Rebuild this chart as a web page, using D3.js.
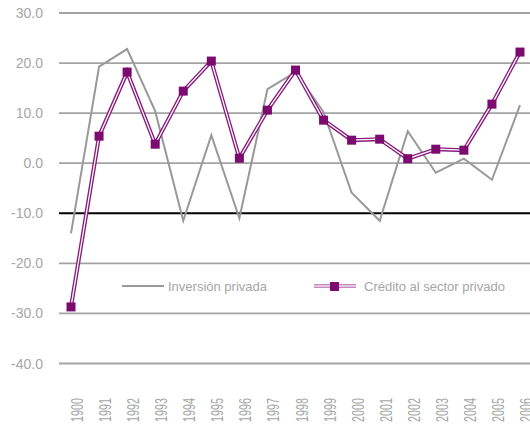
<!DOCTYPE html>
<html>
<head>
<meta charset="utf-8">
<script src="https://cdn.jsdelivr.net/npm/d3@7"></script>
<style>
  body { margin: 0; background: #fff; }
  svg { display: block; font-family: "Liberation Sans", Arial, sans-serif; }
</style>
</head>
<body>
<svg width="530" height="425"></svg>
<script>
const years = ["1900", "1991", "1992", "1993", "1994", "1995", "1996", "1997", "1998",
  "1999", "2000", "2001", "2002", "2003", "2004", "2005", "2006"];
const inversion = [-14.0, 19.3, 22.8, 10.4, -11.5, 5.6, -11.0, 14.8, 18.2,
  10.2, -5.9, -11.5, 6.4, -1.9, 0.9, -3.3, 11.6];
const credito = [-28.7, 5.4, 18.2, 3.8, 14.4, 20.4, 1.0, 10.6, 18.6,
  8.6, 4.6, 4.8, 0.9, 2.8, 2.6, 11.8, 22.2];
const yTicks = [30, 20, 10, 0, -10, -20, -30, -40];

const svg = d3.select("svg");

const x = d3.scalePoint().domain(years).range([71, 520]);
const y = d3.scaleLinear().domain([-40, 30]).range([363.5, 13]);

// gridlines (the -10 one is the black category axis)
svg.append("g")
  .selectAll("line")
  .data(yTicks)
  .enter()
  .append("line")
  .attr("x1", 59)
  .attr("x2", 530)
  .attr("y1", d => y(d))
  .attr("y2", d => y(d))
  .attr("stroke", d => d === -10 ? "#000" : "#a3a3a3")
  .attr("stroke-width", d => d === -10 ? 2 : 1.8);

// y tick labels
svg.append("g")
  .selectAll("text")
  .data(yTicks)
  .enter()
  .append("text")
  .attr("x", 43)
  .attr("y", d => y(d) + 5)
  .attr("text-anchor", "end")
  .attr("fill", "#a6a6a6")
  .attr("font-size", 14)
  .text(d => d.toFixed(1));

// x labels, rotated, condensed like the original
svg.append("g")
  .selectAll("text")
  .data(years)
  .enter()
  .append("text")
  .attr("transform", d => `translate(${x(d) + 12},398) rotate(-90)`)
  .attr("text-anchor", "end")
  .attr("fill", "#a6a6a6")
  .attr("font-size", 16)
  .attr("textLength", 24)
  .attr("lengthAdjust", "spacingAndGlyphs")
  .text(d => d);

const line = d3.line().x((d, i) => x(years[i])).y(d => y(d));

svg.append("path")
  .attr("d", line(inversion))
  .attr("fill", "none")
  .attr("stroke", "#999")
  .attr("stroke-width", 2);

svg.append("path")
  .attr("d", line(credito))
  .attr("fill", "none")
  .attr("stroke", "#8a1a7e")
  .attr("stroke-width", 4);
svg.append("path")
  .attr("d", line(credito))
  .attr("fill", "none")
  .attr("stroke", "#fff")
  .attr("stroke-width", 1.3);

svg.append("g")
  .selectAll("rect")
  .data(credito)
  .enter()
  .append("rect")
  .attr("x", (d, i) => x(years[i]) - 4.5)
  .attr("y", d => y(d) - 4.5)
  .attr("width", 9)
  .attr("height", 9)
  .attr("fill", "#7b0b6f");

// legend
const lg = svg.append("g");
lg.append("line")
  .attr("x1", 122).attr("x2", 164).attr("y1", 286).attr("y2", 286)
  .attr("stroke", "#999").attr("stroke-width", 2);
lg.append("text")
  .attr("x", 168).attr("y", 291)
  .attr("fill", "#a6a6a6").attr("font-size", 13)
  .text("Inversión privada");
lg.append("line")
  .attr("x1", 314).attr("x2", 356).attr("y1", 286).attr("y2", 286)
  .attr("stroke", "#c58abd").attr("stroke-width", 4);
lg.append("line")
  .attr("x1", 314).attr("x2", 356).attr("y1", 286).attr("y2", 286)
  .attr("stroke", "#fff").attr("stroke-width", 1.2);
lg.append("rect")
  .attr("x", 330).attr("y", 282).attr("width", 9).attr("height", 9)
  .attr("fill", "#7b0b6f");
lg.append("text")
  .attr("x", 364).attr("y", 291)
  .attr("fill", "#a6a6a6").attr("font-size", 13)
  .text("Crédito al sector privado");
</script>
</body>
</html>
